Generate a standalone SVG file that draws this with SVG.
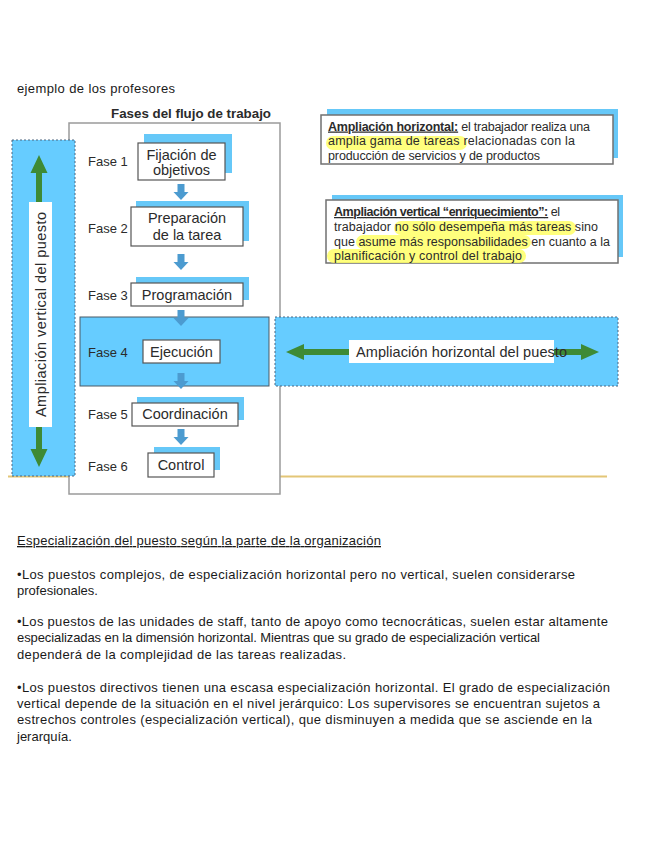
<svg xmlns="http://www.w3.org/2000/svg" xmlns:xlink="http://www.w3.org/1999/xlink" width="646" height="848" viewBox="0 0 646 848">
<style>
.t{font-family:"Liberation Sans",Arial,sans-serif;fill:#2b2b2b}
.p{font-family:"Liberation Sans",Arial,sans-serif;font-size:13px;fill:#1a1a1a}
.lbl{font-size:13px}
.bx{font-size:14.5px;text-anchor:middle}
.nt{font-size:12.5px}
.shadow{fill:#66C8F8}
.box{fill:#fff;stroke:#555;stroke-width:1.2}
.note{fill:#fff;stroke:#707070;stroke-width:1.5}
.dash{fill:#66CCFF;stroke:#4d6780;stroke-width:1;stroke-dasharray:2 2}
.hl{fill:#FFFF66;opacity:0.85}
.dn{fill:#4C9BD0}
.grn{fill:#3E8A35}
</style>
<defs>
<path id="dn" d="M-3.5 0 H3.5 V8 H7.5 L0 16 L-7.5 8 H-3.5 Z"/>
</defs>
<rect width="646" height="848" fill="#fff"/>

<text class="p" x="17" y="93" font-size="13" textLength="158" lengthAdjust="spacing">ejemplo de los profesores</text>

<line x1="8" y1="476.5" x2="607" y2="476.5" stroke="#E3C677" stroke-width="2"/>

<g id="frame">
<rect x="69" y="123" width="211" height="371" fill="#fff" stroke="#9a9a9a" stroke-width="1.5"/>
<text class="t" x="191" y="118" font-size="13.5" font-weight="bold" text-anchor="middle" textLength="160" lengthAdjust="spacingAndGlyphs" fill="#222">Fases del flujo de trabajo</text>
</g>

<g id="vertical-band">
<rect class="dash" x="12" y="140" width="63" height="336"/>
</g>
<g id="fase4-band">
<rect x="80" y="317" width="189" height="69" fill="#66CCFF" stroke="#4a5a66" stroke-width="1"/>
</g>
<g id="horizontal-band">
<rect class="dash" x="275" y="317" width="343" height="69"/>
</g>

<g id="connectors">
<use xlink:href="#dn" class="dn" x="181" y="184"/>
<use xlink:href="#dn" class="dn" x="181" y="254"/>
<use xlink:href="#dn" class="dn" x="181" y="310"/>
<use xlink:href="#dn" class="dn" x="181" y="373"/>
<use xlink:href="#dn" class="dn" x="181" y="429"/>
<path class="grn" d="M39 155 L47.5 173 H42 V449 H47.5 L39 467 L30.5 449 H36 V173 H30.5 Z"/>
<path class="grn" d="M286 352 L304 344 V349 H581 V344 L599 352 L581 360 V355 H304 V360 Z"/>
</g>

<g id="label-vertical">
<rect x="29" y="202" width="23" height="225" fill="#fff"/>
<text class="t" font-size="14.5" text-anchor="middle" textLength="205" lengthAdjust="spacing" transform="translate(45.5 314.5) rotate(-90)">Ampliación vertical del puesto</text>
</g>
<g id="label-horizontal">
<rect x="349" y="340" width="205" height="23" fill="#fff"/>
<text class="t" x="356" y="357" font-size="14.5" textLength="211" lengthAdjust="spacing">Ampliación horizontal del puesto</text>
</g>

<g id="fase1">
<text class="t lbl" x="88" y="166">Fase 1</text>
<rect class="shadow" x="144" y="134" width="88" height="39"/>
<rect class="box" x="138" y="143" width="87" height="37"/>
<text class="t bx" x="181.5" y="160">Fijación de</text>
<text class="t bx" x="181.5" y="175">objetivos</text>
</g>
<g id="fase2">
<text class="t lbl" x="88" y="233">Fase 2</text>
<rect class="shadow" x="136" y="201" width="113" height="40"/>
<rect class="box" x="131" y="207" width="112" height="39"/>
<text class="t bx" x="187" y="223">Preparación</text>
<text class="t bx" x="187" y="240">de la tarea</text>
</g>
<g id="fase3">
<text class="t lbl" x="88" y="300">Fase 3</text>
<rect class="shadow" x="136" y="277" width="113" height="23"/>
<rect class="box" x="131" y="283" width="112" height="23"/>
<text class="t bx" x="187" y="300">Programación</text>
</g>
<g id="fase4">
<text class="t lbl" x="88" y="357">Fase 4</text>
<rect class="box" x="143" y="340" width="77" height="23"/>
<text class="t bx" x="181.5" y="357">Ejecución</text>
</g>
<g id="fase5">
<text class="t lbl" x="88" y="419">Fase 5</text>
<rect class="shadow" x="137" y="397" width="107" height="23"/>
<rect class="box" x="132" y="403" width="106" height="23"/>
<text class="t bx" x="185" y="419">Coordinación</text>
</g>
<g id="fase6">
<text class="t lbl" x="88" y="471">Fase 6</text>
<rect class="shadow" x="154" y="447" width="66" height="23"/>
<rect class="box" x="148" y="453" width="66" height="24"/>
<text class="t bx" x="181" y="470">Control</text>
</g>

<g id="nota-horizontal">
<rect class="shadow" x="327" y="109" width="291" height="49"/>
<rect class="note" x="321" y="115" width="292" height="49"/>
<rect class="hl" x="326" y="136" width="141" height="14" rx="7"/>
<text class="t nt" x="328" y="130.5" textLength="262" lengthAdjust="spacing"><tspan font-weight="bold" text-decoration="underline">Ampliación horizontal:</tspan> el trabajador realiza una</text>
<text class="t nt" x="328" y="145" textLength="247" lengthAdjust="spacing">amplia gama de tareas relacionadas con la</text>
<text class="t nt" x="328" y="159.5" textLength="212" lengthAdjust="spacing">producción de servicios y de productos</text>
</g>

<g id="nota-vertical">
<rect class="shadow" x="332" y="195" width="291" height="62"/>
<rect class="note" x="326" y="200" width="292" height="63"/>
<rect class="hl" x="394" y="221" width="182" height="14" rx="7"/>
<rect class="hl" x="356" y="235" width="175" height="14" rx="7"/>
<rect class="hl" x="327" y="249" width="199" height="14" rx="7"/>
<text class="t nt" x="334" y="216" textLength="226" lengthAdjust="spacing"><tspan font-weight="bold" text-decoration="underline">Ampliación vertical “enriquecimiento”:</tspan> el</text>
<text class="t nt" x="334" y="231" textLength="264" lengthAdjust="spacing">trabajador no sólo desempeña más tareas sino</text>
<text class="t nt" x="334" y="245.5" textLength="276" lengthAdjust="spacing">que asume más responsabilidades en cuanto a la</text>
<text class="t nt" x="334" y="260" textLength="188" lengthAdjust="spacing">planificación y control del trabajo</text>
</g>

<g id="texto">
<text class="p" x="17" y="545" text-decoration="underline" textLength="364" lengthAdjust="spacing">Especialización del puesto según la parte de la organización</text>
<text class="p" x="17" y="579" textLength="558" lengthAdjust="spacing">•Los puestos complejos, de especialización horizontal pero no vertical, suelen considerarse</text>
<text class="p" x="17" y="595">profesionales.</text>
<text class="p" x="17" y="626" textLength="591" lengthAdjust="spacing">•Los puestos de las unidades de staff, tanto de apoyo como tecnocráticas, suelen estar altamente</text>
<text class="p" x="17" y="642" textLength="523" lengthAdjust="spacing">especializadas en la dimensión horizontal. Mientras que su grado de especialización vertical</text>
<text class="p" x="17" y="659" textLength="329" lengthAdjust="spacing">dependerá de la complejidad de las tareas realizadas.</text>
<text class="p" x="17" y="692" textLength="593" lengthAdjust="spacing">•Los puestos directivos tienen una escasa especialización horizontal. El grado de especialización</text>
<text class="p" x="17" y="708" textLength="583" lengthAdjust="spacing">vertical depende de la situación en el nivel jerárquico: Los supervisores se encuentran sujetos a</text>
<text class="p" x="17" y="724" textLength="575" lengthAdjust="spacing">estrechos controles (especialización vertical), que disminuyen a medida que se asciende en la</text>
<text class="p" x="17" y="741">jerarquía.</text>
</g>
</svg>
